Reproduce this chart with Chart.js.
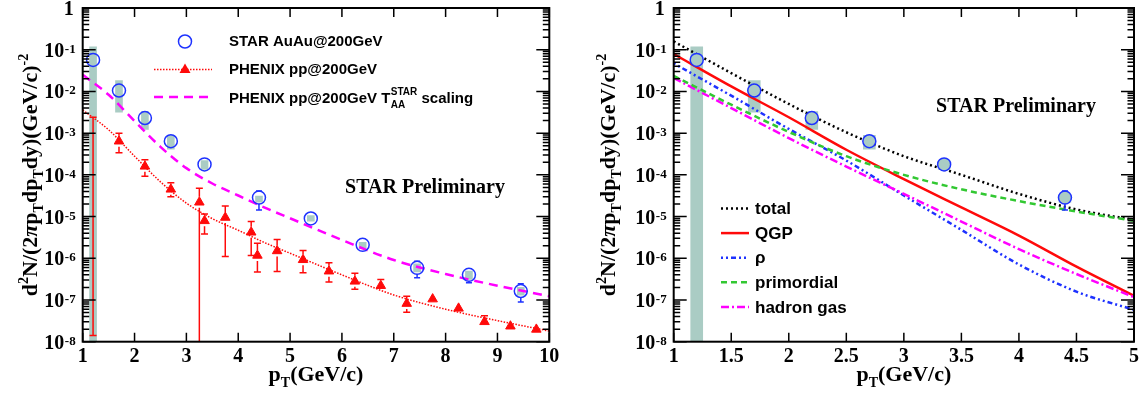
<!DOCTYPE html>
<html>
<head>
<meta charset="utf-8">
<script src="https://cdn.jsdelivr.net/npm/chart.js@4.4.1/dist/chart.umd.min.js"></script>
<style>
html, body { margin: 0; padding: 0; background: #fff; }
#wrap { position: relative; width: 1142px; height: 401px; }
.panel { position: absolute; top: 0; width: 571px; height: 401px; }
</style>
</head>
<body>
<div id="wrap">
  <div class="panel" style="left:0"><canvas id="left" width="571" height="401"></canvas></div>
  <div class="panel" style="left:571px"><canvas id="right" width="571" height="401"></canvas></div>
</div>
<script>
// STAR AuAu@200GeV (same points on both panels)
const starPt     = [1.2, 1.7, 2.2, 2.7, 3.35, 4.4, 5.4, 6.4, 7.45, 8.45, 9.45];
const starY      = [5.7e-2, 1.05e-2, 2.3e-3, 6.4e-4, 1.78e-4, 2.85e-5, 9.0e-6, 2.1e-6, 5.9e-7, 4.0e-7, 1.64e-7];
const starStatHi = [5.7e-2, 1.05e-2, 2.3e-3, 6.4e-4, 1.78e-4, 4.1e-5, 9.0e-6, 2.1e-6, 8.5e-7, 4.9e-7, 2.45e-7];
const starStatLo = [5.7e-2, 1.05e-2, 2.3e-3, 6.4e-4, 1.78e-4, 1.43e-5, 9.0e-6, 2.1e-6, 3.4e-7, 2.6e-7, 8.9e-8];
const starSysHi  = [0.117, 1.82e-2, 3.3e-3, 8.9e-4, 2.2e-4, 3.1e-5, 1.05e-5, 2.4e-6, 7.4e-7, 4.9e-7, 2.0e-7];
const starSysLo  = [1e-9, 3.2e-3, 1.22e-3, 4.1e-4, 1.35e-4, 2.2e-5, 7.8e-6, 1.74e-6, 4.7e-7, 3.1e-7, 1.3e-7];

// PHENIX pp@200GeV
const phenixPt = [1.2, 1.7, 2.2, 2.7, 3.25, 3.35, 3.75, 4.25, 4.37, 4.75, 5.25, 5.75, 6.25, 6.75, 7.25, 7.75, 8.25, 8.75, 9.25, 9.75];
const phenixY  = [1e-9, 6.4e-4, 1.6e-4, 4.5e-5, 2.2e-5, 7.9e-6, 9.5e-6, 4.2e-6, 1.17e-6, 1.5e-6, 9.2e-7, 4.9e-7, 2.8e-7, 2.2e-7, 8.2e-8, 1.05e-7, 6.3e-8, 3.0e-8, 2.35e-8, 1.97e-8];
const phenixHi = [2.4e-3, 1.0e-3, 2.3e-4, 6.5e-5, 4.8e-5, 1.15e-5, 1.8e-5, 7.6e-6, 2.3e-6, 2.8e-6, 1.53e-6, 7.8e-7, 4.4e-7, 3.1e-7, 1.23e-7, 1.2e-7, 7.0e-8, 4.2e-8, 2.6e-8, 2.1e-8];
const phenixLo = [1.4e-8, 3.4e-4, 9.3e-5, 3.0e-5, 1e-9, 3.8e-6, 1.1e-6, 1.17e-6, 4.7e-7, 4.8e-7, 4.5e-7, 2.7e-7, 1.8e-7, 1.7e-7, 5.1e-8, 9e-8, 5.6e-8, 2.4e-8, 2.1e-8, 1.85e-8];

// pp fit and T_AA scaled curve
const fitPt = [1, 1.5, 2, 2.5, 3, 3.5, 4, 4.5, 5, 6, 7, 8, 9, 10];
const ppFit  = [3.6e-3, 1.2e-3, 2.8e-4, 6.8e-5, 2.1e-5, 8.9e-6, 4.7e-6, 2.4e-6, 1.32e-6, 4.0e-7, 1.32e-7, 6.0e-8, 3.2e-8, 1.8e-8];
const taaFit = [2.5e-2, 8.3e-3, 1.95e-3, 4.7e-4, 1.45e-4, 6.2e-5, 3.2e-5, 1.66e-5, 9.1e-6, 2.75e-6, 9.1e-7, 4.2e-7, 2.2e-7, 1.23e-7];

// model curves (right panel)
const modelPt = [1, 1.5, 2, 2.5, 3, 3.5, 4, 4.5, 5];
const totalY  = [0.158, 2.75e-2, 5.0e-3, 1.05e-3, 2.8e-4, 1.0e-4, 3.5e-5, 1.48e-5, 8.3e-6];
const qgpY    = [7.9e-2, 1.32e-2, 2.4e-3, 4.0e-4, 7.9e-5, 1.66e-5, 3.5e-6, 6.3e-7, 1.26e-7];
const rhoY    = [4.7e-2, 7.9e-3, 1.26e-3, 2.2e-4, 3.2e-5, 4.8e-6, 7.1e-7, 1.58e-7, 5.8e-8];
const primY   = [2.35e-2, 4.8e-3, 1.07e-3, 2.8e-4, 1.0e-4, 4.5e-5, 2.35e-5, 1.32e-5, 7.9e-6];
const hgY     = [2.1e-2, 4.0e-3, 7.6e-4, 1.58e-4, 3.5e-5, 7.6e-6, 1.66e-6, 4.2e-7, 1.17e-7];

// axis ticks
const decades = [0, -1, -2, -3, -4, -5, -6, -7, -8];
const leftXTicks = [1, 2, 3, 4, 5, 6, 7, 8, 9, 10];
const rightXTicks = [1, 1.5, 2, 2.5, 3, 3.5, 4, 4.5, 5];

const SERIF = '"Liberation Serif", "Times New Roman", serif';
const SANS = '"Liberation Sans", Arial, sans-serif';
const BLUE = 'rgb(30,50,255)';
const RED = 'rgb(255,10,10)';
const MAGENTA = '#ff00ff';
const GREEN = 'rgb(50,200,50)';
const BOX = 'rgb(170,204,196)';

const pairs = (xs, ys) => xs.map((x, i) => ({ x: x, y: ys[i] }));

function drawRich(ctx, segs, x, y, align) {
    let w = 0;
    segs.forEach(s => { ctx.font = s.f; s.w = ctx.measureText(s.t).width; w += s.w; });
    let cx = align === 'center' ? x - w / 2 : x;
    ctx.textAlign = 'left';
    segs.forEach(s => { ctx.font = s.f; ctx.fillText(s.t, cx, y + (s.dy || 0)); cx += s.w; });
}

// error bars with caps, gap around the marker
const errorBars = {
    id: 'errorBars',
    afterDatasetsDraw(chart) {
        const ctx = chart.ctx, a = chart.chartArea, ys = chart.scales.y;
        ctx.save();
        ctx.beginPath();
        ctx.rect(a.left, a.top, a.right - a.left, a.bottom - a.top);
        ctx.clip();
        chart.data.datasets.forEach((ds, i) => {
            if (!ds.errHi) return;
            const meta = chart.getDatasetMeta(i);
            ctx.strokeStyle = ds.borderColor;
            ctx.lineWidth = 1.5;
            meta.data.forEach((pt, j) => {
                if (pt.x < a.left - 1 || pt.x > a.right + 1) return;
                const yh = ys.getPixelForValue(ds.errHi[j]);
                const yl = ys.getPixelForValue(ds.errLo[j]);
                const g = ds.pointRadius, c = ds.capSize;
                ctx.beginPath();
                if (pt.y > a.bottom) {
                    ctx.moveTo(pt.x, yh); ctx.lineTo(pt.x, yl);
                    ctx.moveTo(pt.x - c, yh); ctx.lineTo(pt.x + c, yh);
                    ctx.moveTo(pt.x - c, yl); ctx.lineTo(pt.x + c, yl);
                } else {
                    if (yh < pt.y - g) {
                        ctx.moveTo(pt.x, yh); ctx.lineTo(pt.x, pt.y - g);
                        ctx.moveTo(pt.x - c, yh); ctx.lineTo(pt.x + c, yh);
                    }
                    if (yl > pt.y + g) {
                        ctx.moveTo(pt.x, pt.y + g); ctx.lineTo(pt.x, yl);
                        ctx.moveTo(pt.x - c, yl); ctx.lineTo(pt.x + c, yl);
                    }
                }
                ctx.stroke();
            });
        });
        ctx.restore();
    }
};

// ROOT style frame, inside ticks, labels and titles
const rootAxes = {
    id: 'rootAxes',
    afterDraw(chart, args, o) {
        const ctx = chart.ctx, a = chart.chartArea, xs = chart.scales.x, ys = chart.scales.y;
        ctx.save();
        ctx.strokeStyle = '#000';
        ctx.lineWidth = 1.5;
        ctx.beginPath();
        o.xTicks.forEach(v => {
            const px = xs.getPixelForValue(v);
            ctx.moveTo(px, a.bottom); ctx.lineTo(px, a.bottom - 9);
            ctx.moveTo(px, a.top); ctx.lineTo(px, a.top + 9);
        });
        decades.forEach(d => {
            const py = ys.getPixelForValue(Math.pow(10, d));
            ctx.moveTo(a.left, py); ctx.lineTo(a.left + 13, py);
            ctx.moveTo(a.right, py); ctx.lineTo(a.right - 13, py);
            if (d < 0) {
                for (let m = 2; m <= 9; m++) {
                    const pm = ys.getPixelForValue(m * Math.pow(10, d));
                    ctx.moveTo(a.left, pm); ctx.lineTo(a.left + 6.5, pm);
                    ctx.moveTo(a.right, pm); ctx.lineTo(a.right - 6.5, pm);
                }
            }
        });
        ctx.stroke();
        ctx.lineWidth = 2;
        ctx.strokeRect(a.left, a.top, a.right - a.left, a.bottom - a.top);

        ctx.fillStyle = '#000';
        ctx.textBaseline = 'alphabetic';
        // x tick labels
        ctx.font = 'bold 20px ' + SERIF;
        ctx.textAlign = 'center';
        o.xTicks.forEach(v => ctx.fillText(String(v), xs.getPixelForValue(v), a.bottom + 20));
        // y tick labels
        const rx = a.left - 7;
        decades.forEach(d => {
            const py = ys.getPixelForValue(Math.pow(10, d));
            ctx.textAlign = 'right';
            if (d === 0) {
                ctx.font = 'bold 20px ' + SERIF;
                ctx.fillText('1', rx - 2, py + 7);
            } else {
                ctx.font = 'bold 13px ' + SERIF;
                const e = String(d);
                const ew = ctx.measureText(e).width;
                ctx.fillText(e, rx, py + 3);
                ctx.font = 'bold 20px ' + SERIF;
                ctx.fillText('10', rx - ew - 0.5, py + 7);
            }
        });
        // x title
        const big = 'bold 22px ' + SERIF, small = 'bold 14px ' + SERIF;
        drawRich(ctx, [
            { t: 'p', f: big }, { t: 'T', f: small, dy: 6 }, { t: '(GeV/c)', f: big }
        ], (a.left + a.right) / 2, 381, 'center');
        // y title
        ctx.save();
        ctx.translate(o.yTitleX, 175);
        ctx.rotate(-Math.PI / 2);
        drawRich(ctx, [
            { t: 'd', f: big }, { t: '2', f: small, dy: -9 }, { t: 'N/(2', f: big },
            { t: 'π', f: 'bold italic 22px ' + SERIF }, { t: 'p', f: big }, { t: 'T', f: small, dy: 6 },
            { t: 'dp', f: big }, { t: 'T', f: small, dy: 6 }, { t: 'dy)(GeV/c)', f: big },
            { t: '-2', f: small, dy: -9 }
        ], 0, 0, 'center');
        ctx.restore();
        // STAR Preliminary
        ctx.font = 'bold 20px ' + SERIF;
        ctx.textAlign = 'center';
        ctx.fillText('STAR Preliminary', o.prelim[0], o.prelim[1]);
        ctx.restore();
    }
};

const leftLegend = {
    id: 'leftLegend',
    afterDraw(chart) {
        const ctx = chart.ctx;
        ctx.save();
        ctx.fillStyle = '#000';
        ctx.textBaseline = 'middle';
        ctx.textAlign = 'left';
        const f = 'bold 15px ' + SANS;
        // row 1
        ctx.strokeStyle = BLUE; ctx.lineWidth = 1.5;
        ctx.beginPath(); ctx.arc(185, 41.5, 6.5, 0, Math.PI * 2); ctx.stroke();
        ctx.font = f; ctx.fillText('STAR AuAu@200GeV', 229, 42);
        // row 2
        ctx.strokeStyle = RED; ctx.lineWidth = 1.5; ctx.setLineDash([1.5, 1.5]);
        ctx.beginPath(); ctx.moveTo(154, 69.5); ctx.lineTo(212, 69.5); ctx.stroke();
        ctx.setLineDash([]);
        ctx.fillStyle = RED;
        ctx.beginPath(); ctx.moveTo(185, 63.5); ctx.lineTo(190.5, 73); ctx.lineTo(179.5, 73); ctx.closePath(); ctx.fill();
        ctx.fillStyle = '#000';
        ctx.fillText('PHENIX pp@200GeV', 229, 69.5);
        // row 3
        ctx.strokeStyle = MAGENTA; ctx.lineWidth = 2.5; ctx.setLineDash([9, 6]);
        ctx.beginPath(); ctx.moveTo(154, 97); ctx.lineTo(212, 97); ctx.stroke();
        ctx.setLineDash([]);
        ctx.textBaseline = 'alphabetic';
        let x = 229;
        const t1 = 'PHENIX pp@200GeV T';
        ctx.font = f; ctx.fillText(t1, x, 102.5); x += ctx.measureText(t1).width + 0.5;
        ctx.font = 'bold 10px ' + SANS;
        ctx.fillText('STAR', x, 95);
        const sw = ctx.measureText('STAR').width;
        ctx.fillText('AA', x, 108);
        x += sw;
        ctx.font = f; ctx.fillText(' scaling', x, 102.5);
        ctx.restore();
    }
};

const rightLegendRows = [
    { label: 'total', color: '#000', dash: [2, 3] },
    { label: 'QGP', color: RED, dash: [] },
    { label: 'ρ', color: BLUE, dash: [2, 3, 2, 3, 5, 3] },
    { label: 'primordial', color: GREEN, dash: [6, 4] },
    { label: 'hadron gas', color: MAGENTA, dash: [8, 3, 2, 3] }
];

const rightLegend = {
    id: 'rightLegend',
    afterDraw(chart) {
        const ctx = chart.ctx;
        ctx.save();
        ctx.textBaseline = 'middle';
        ctx.textAlign = 'left';
        ctx.font = 'bold 17px ' + SANS;
        rightLegendRows.forEach((r, i) => {
            const y = 208.5 + 24.6 * i - 571 * 0;
            ctx.strokeStyle = r.color; ctx.lineWidth = 2.5; ctx.setLineDash(r.dash);
            ctx.beginPath(); ctx.moveTo(150, y); ctx.lineTo(178, y); ctx.stroke();
            ctx.setLineDash([]);
            ctx.fillStyle = '#000';
            ctx.fillText(r.label, 184, y + 1);
        });
        ctx.restore();
    }
};

function scales(xmin, xmax, yWidth, xHeight) {
    return {
        x: {
            type: 'linear', min: xmin, max: xmax, offset: false,
            grid: { display: false, offset: false }, border: { display: false },
            ticks: { display: false },
            afterFit(s) { s.height = xHeight; }
        },
        y: {
            type: 'logarithmic', min: 1e-8, max: 1,
            grid: { display: false }, border: { display: false },
            ticks: { display: false },
            afterFit(s) { s.width = yWidth; }
        }
    };
}

const starBase = {
    type: 'line', showLine: false, pointStyle: 'circle', pointRadius: 6.5,
    borderColor: BLUE, pointBorderWidth: 1.5, borderWidth: 1.5,
    errHi: starStatHi, errLo: starStatLo, capSize: 3, order: 1
};

new Chart(document.getElementById('left'), {
    type: 'scatter',
    data: {
        datasets: [
            { type: 'bar', data: starPt.map((x, i) => ({ x: x, y: [starSysLo[i], starSysHi[i]] })),
              backgroundColor: BOX, barThickness: 7, order: 10 },
            { type: 'line', data: pairs(fitPt, taaFit), borderColor: MAGENTA, borderWidth: 2.5,
              borderDash: [9, 6], pointRadius: 0, cubicInterpolationMode: 'monotone', order: 5 },
            { type: 'line', data: pairs(fitPt, ppFit), borderColor: RED, borderWidth: 1.5,
              borderDash: [1.5, 1.5], pointRadius: 0, cubicInterpolationMode: 'monotone', order: 5 },
            Object.assign({}, starBase, { data: pairs(starPt, starY), backgroundColor: 'rgba(0,0,0,0)' }),
            { type: 'line', showLine: false, data: pairs(phenixPt, phenixY), pointStyle: 'triangle',
              pointRadius: 5.5, borderColor: RED, backgroundColor: RED, borderWidth: 1,
              errHi: phenixHi, errLo: phenixLo, capSize: 3.5, order: 1 }
        ]
    },
    options: {
        responsive: false, animation: false, devicePixelRatio: 1,
        layout: { padding: { left: 0, top: 6, right: 21.7, bottom: 0 } },
        scales: scales(1, 10, 82.7, 59.3),
        plugins: {
            legend: { display: false }, tooltip: { enabled: false },
            rootAxes: { xTicks: leftXTicks, yTitleX: 37, prelim: [425, 193] }
        }
    },
    plugins: [errorBars, rootAxes, leftLegend]
});

new Chart(document.getElementById('right'), {
    type: 'scatter',
    data: {
        datasets: [
            { type: 'bar', data: starPt.map((x, i) => ({ x: x, y: [starSysLo[i], starSysHi[i]] })),
              backgroundColor: BOX, barThickness: 12, order: 10 },
            { type: 'line', data: pairs(modelPt, primY), borderColor: GREEN, borderWidth: 2.5,
              borderDash: [6, 4], pointRadius: 0, cubicInterpolationMode: 'monotone', order: 5 },
            { type: 'line', data: pairs(modelPt, hgY), borderColor: MAGENTA, borderWidth: 2.5,
              borderDash: [8, 3, 2, 3], pointRadius: 0, cubicInterpolationMode: 'monotone', order: 5 },
            { type: 'line', data: pairs(modelPt, rhoY), borderColor: BLUE, borderWidth: 2.5,
              borderDash: [2, 3, 2, 3, 5, 3], pointRadius: 0, cubicInterpolationMode: 'monotone', order: 5 },
            { type: 'line', data: pairs(modelPt, qgpY), borderColor: RED, borderWidth: 2.5,
              pointRadius: 0, cubicInterpolationMode: 'monotone', order: 5 },
            { type: 'line', data: pairs(modelPt, totalY), borderColor: '#000', borderWidth: 2.5,
              borderDash: [2, 3], pointRadius: 0, cubicInterpolationMode: 'monotone', order: 5 },
            Object.assign({}, starBase, { data: pairs(starPt, starY), backgroundColor: BOX })
        ]
    },
    options: {
        responsive: false, animation: false, devicePixelRatio: 1,
        layout: { padding: { left: 0, top: 6, right: 6.7, bottom: 0 } },
        scales: scales(1, 5, 102.7, 59.3),
        plugins: {
            legend: { display: false }, tooltip: { enabled: false },
            rootAxes: { xTicks: rightXTicks, yTitleX: 43.5, prelim: [445, 112] }
        }
    },
    plugins: [errorBars, rootAxes, rightLegend]
});
</script>
</body>
</html>
